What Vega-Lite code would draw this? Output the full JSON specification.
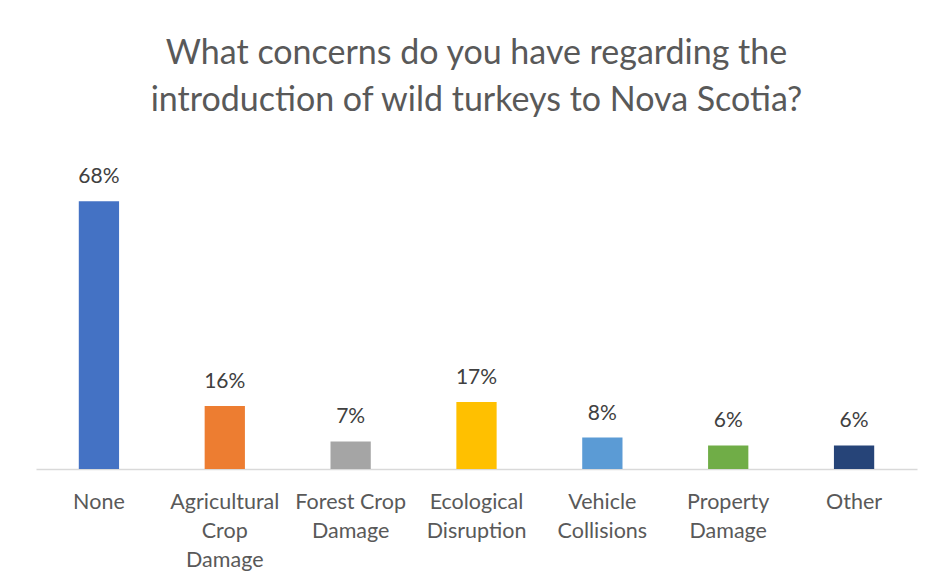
{
  "$schema": "https://vega.github.io/schema/vega-lite/v6.json",
  "autosize": {"type": "none"},
  "width": 881,
  "height": 315,
  "padding": {"left": 36, "top": 154, "right": 18, "bottom": 115},
  "background": "white",
  "title": {
    "text": ["What concerns do you have regarding the", "introduction of wild turkeys to Nova Scotia?"],
    "font": "Lato",
    "fontSize": 34,
    "fontWeight": "normal",
    "color": "#595959",
    "lineHeight": 47,
    "anchor": "middle",
    "offset": 36
  },
  "data": {
    "values": [
      {"concern": "None", "pct": 0.68},
      {"concern": "Agricultural Crop Damage", "pct": 0.16},
      {"concern": "Forest Crop Damage", "pct": 0.07},
      {"concern": "Ecological Disruption", "pct": 0.17},
      {"concern": "Vehicle Collisions", "pct": 0.08},
      {"concern": "Property Damage", "pct": 0.06},
      {"concern": "Other", "pct": 0.06}
    ]
  },
  "encoding": {
    "x": {
      "field": "concern",
      "type": "nominal",
      "sort": null,
      "scale": {"paddingInner": 0.68, "paddingOuter": 0.34},
      "axis": {
        "title": null,
        "labelAngle": 0,
        "labelFont": "Lato",
        "labelFontSize": 21.5,
        "labelColor": "#595959",
        "labelLineHeight": 29,
        "labelPadding": 22,
        "ticks": false,
        "tickSize": 0,
        "domainColor": "#D9D9D9",
        "domainWidth": 1.5,
        "labelExpr": "datum.value == 'Forest Crop Damage' ? ['Forest Crop', 'Damage'] : split(datum.value, ' ')"
      }
    },
    "y": {
      "field": "pct",
      "type": "quantitative",
      "scale": {"domain": [0, 0.8]},
      "axis": null
    }
  },
  "layer": [
    {
      "mark": {"type": "bar"},
      "encoding": {
        "color": {
          "field": "concern",
          "type": "nominal",
          "sort": null,
          "legend": null,
          "scale": {
            "domain": ["None", "Agricultural Crop Damage", "Forest Crop Damage", "Ecological Disruption", "Vehicle Collisions", "Property Damage", "Other"],
            "range": ["#4472C4", "#ED7D31", "#A5A5A5", "#FFC000", "#5B9BD5", "#70AD47", "#264478"]
          }
        }
      }
    },
    {
      "mark": {"type": "text", "font": "Lato", "fontSize": 21, "color": "#404040", "baseline": "alphabetic", "dy": -18},
      "encoding": {
        "text": {"field": "pct", "type": "quantitative", "format": ".0%"}
      }
    }
  ],
  "config": {"view": {"stroke": null}}
}
